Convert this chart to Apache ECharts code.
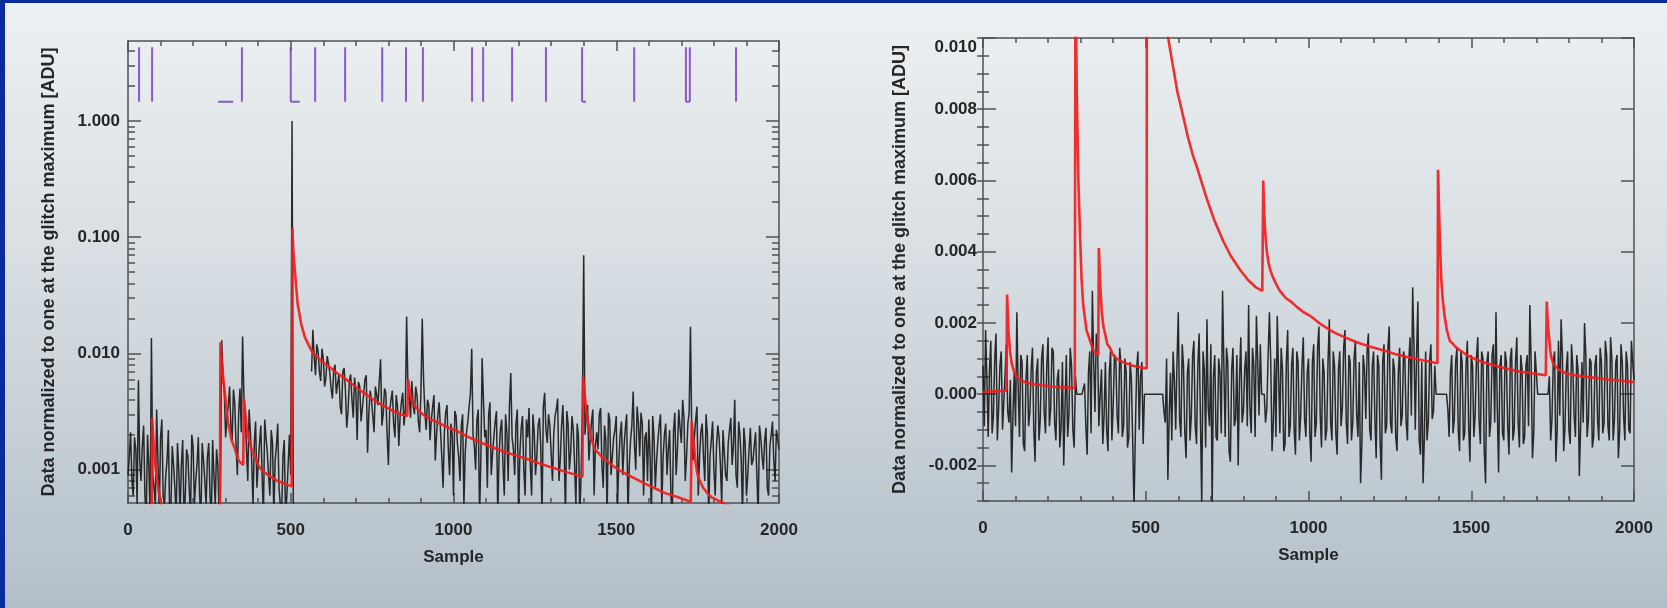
<!DOCTYPE html>
<html><head><meta charset="utf-8">
<script src="https://cdn.jsdelivr.net/npm/echarts@6/dist/echarts.min.js"></script>
<style>html,body{margin:0;padding:0;width:1667px;height:608px;overflow:hidden}#c{width:1667px;height:608px}</style>
</head><body><div id="c"></div><script>
// ---------- data ----------
// black traces: main values at samples 0,8,...,2000 and
// in-between values at samples 4,12,...,1996
const sampleStep = 8;

// left panel: data normalised to glitch maximum (log axis)
const leftBlack = [
.0009,.0021,.0006,.0015,.0059,.0008,.0024,.0004,.0011,.0136,
.0007,.0033,.0004,.0027,.0005,.0012,.0004,.0016,.0007,.0017,
.0004,.0018,.0006,.0013,.0004,.0016,.0008,.0019,.0004,.0012,
.0005,.0017,.0004,.0009,.0015,.0004,.0130,.0045,.0028,.0052,
.0018,.0037,.0009,.0050,.0140,.0030,.0008,.0021,.0005,.0026,
.0011,.0024,.0004,.0019,.0009,.0022,.0004,.0016,.0007,.0004,
.0018,.0006,.0020,1.0,.0004,null,null,null,null,null,
null,.0160,.0065,.0105,.0058,.0090,.0062,.0082,.0050,.0072,
.0045,.0066,.0030,.0075,.0023,.0058,.0040,.0062,.0018,.0052,
.0034,.0060,.0014,.0048,.0029,.0052,.0036,.0089,.0030,.0046,
.0011,.0040,.0025,.0044,.0016,.0038,.0024,.0208,.0045,.0058,
.0030,.0043,.0021,.0199,.0032,.0040,.0018,.0035,.0012,.0030,
.0022,.0007,.0031,.0015,.0025,.0006,.0029,.0013,.0024,.0005,
.0021,.0035,.0110,.0016,.0027,.0004,.0091,.0019,.0007,.0038,
.0014,.0026,.0004,.0022,.0011,.0030,.0008,.0068,.0015,.0025,
.0004,.0023,.0010,.0027,.0034,.0006,.0021,.0013,.0028,.0004,
.0046,.0017,.0024,.0008,.0029,.0041,.0012,.0036,.0004,.0025,
.0014,.0022,.0005,.0019,.0009,.0700,.0030,.0012,.0026,.0006,
.0021,.0030,.0011,.0024,.0004,.0027,.0013,.0022,.0005,.0020,
.0009,.0023,.0004,.0018,.0047,.0010,.0026,.0031,.0006,.0021,
.0027,.0004,.0019,.0012,.0024,.0005,.0020,.0009,.0022,.0004,
.0031,.0015,.0023,.0040,.0008,.0025,.0170,.0012,.0027,.0006,
.0021,.0013,.0030,.0004,.0018,.0010,.0016,.0019,.0005,.0014,
.0008,.0022,.0011,.0040,.0007,.0020,.0004,.0017,.0009,.0023,
.0012,.0021,.0004,.0019,.0010,.0023,.0006,.0020,.0012,.0022,
.0015];
const leftBlackMid = [
.0013,.0008,.0019,.0005,.0012,.0016,.0006,.0020,.0004,.0009,
.0005,.0012,.0019,.0006,.0009,.0022,.0005,.0011,.0004,.0010,
.0011,.0004,.0015,.0007,.0020,.0005,.0011,.0006,.0017,.0008,
.0013,.0006,.0018,.0005,.0011,.0007,.0062,.0019,.0035,.0024,
.0049,.0016,.0031,.0021,.0044,.0015,.0033,.0012,.0017,.0007,
.0017,.0009,.0027,.0014,.0006,.0017,.0012,.0025,.0005,.0013,
.0004,.0011,.0009,.0004,null,null,null,null,null,null,
.0070,.0095,.0120,.0070,.0110,.0052,.0095,.0068,.0041,.0080,
.0055,.0035,.0070,.0048,.0032,.0066,.0028,.0047,.0057,.0026,
.0045,.0065,.0031,.0040,.0021,.0044,.0058,.0024,.0050,.0020,
.0032,.0048,.0019,.0035,.0029,.0046,.0033,.0050,.0028,.0036,
.0052,.0026,.0047,.0060,.0022,.0036,.0027,.0044,.0020,.0038,
.0013,.0021,.0036,.0009,.0020,.0032,.0017,.0008,.0030,.0014,
.0026,.0045,.0020,.0010,.0033,.0012,.0040,.0022,.0030,.0009,
.0019,.0032,.0013,.0027,.0006,.0021,.0036,.0019,.0009,.0033,
.0014,.0029,.0006,.0019,.0011,.0030,.0009,.0024,.0016,.0035,
.0022,.0030,.0014,.0020,.0033,.0008,.0024,.0015,.0032,.0010,
.0029,.0011,.0025,.0004,.0031,.0020,.0036,.0018,.0033,.0016,
.0015,.0034,.0007,.0018,.0031,.0009,.0019,.0029,.0012,.0026,
.0016,.0030,.0011,.0024,.0016,.0035,.0013,.0025,.0019,.0008,
.0013,.0029,.0007,.0018,.0030,.0013,.0025,.0015,.0006,.0022,
.0009,.0033,.0017,.0028,.0013,.0031,.0020,.0019,.0035,.0013,
.0025,.0008,.0020,.0013,.0026,.0006,.0024,.0011,.0022,.0009,
.0017,.0028,.0016,.0009,.0026,.0012,.0023,.0006,.0015,.0011,
.0016,.0009,.0024,.0013,.0018,.0007,.0016,.0026,.0008,.0018];

// right panel: same detector, linear zoom
const rightBlack = [
.0008,.0018,-.0012,.0015,-.0006,.0017,-.0004,.0012,-.0002,.0014,
-.0008,-.0022,.0006,.0023,-.0012,.0009,-.0016,.0011,-.0005,.0013,
-.0019,.0010,-.0007,.0014,-.0011,.0016,-.0004,.0012,-.0013,.0007,
-.0009,-.0020,.0011,-.0006,.0008,-.0015,0,0,0,.0003,
-.0017,.0012,.0029,-.0005,.0014,0,-.0014,.0009,-.0016,.0012,
-.0003,.0010,-.0011,.0008,-.0009,.0006,-.0012,.0004,-.0032,.0007,
-.0010,.0009,0,0,0,0,0,0,0,0,
-.0008,-.0024,.0006,.0012,-.0010,.0023,-.0012,.0008,-.0018,.0010,
-.0006,.0015,-.0014,.0017,-.0031,.0007,.0021,-.0009,-.0031,.0011,
-.0013,.0006,.0029,-.0012,.0009,-.0019,.0013,-.0007,-.0020,.0016,
-.0005,.0012,.0025,-.0011,.0008,.0022,-.0006,0,0,-.0004,
.0023,-.0016,.0010,.0022,-.0011,.0007,-.0014,.0018,-.0009,.0013,
-.0017,.0009,-.0006,.0016,-.0012,.0010,-.0019,.0014,-.0008,.0019,
-.0015,.0006,-.0010,.0021,-.0013,.0008,-.0017,.0012,-.0004,.0018,
-.0014,.0009,-.0008,.0015,-.0012,-.0025,.0011,-.0007,.0017,-.0013,
.0012,-.0018,.0008,-.0024,.0014,-.0009,.0019,-.0011,.0007,-.0016,
.0013,-.0006,.0010,-.0013,.0016,.0030,-.0010,.0026,-.0017,-.0025,
.0012,-.0008,.0014,-.0005,0,0,0,0,0,-.0012,
.0011,-.0007,.0013,-.0016,.0009,-.0011,.0015,-.0019,.0008,-.0006,
.0016,-.0014,.0010,-.0025,.0012,-.0008,.0014,.0023,-.0022,.0011,
-.0013,.0009,-.0017,.0013,-.0010,.0016,-.0015,.0007,-.0012,.0011,
.0025,-.0018,.0012,0,0,0,0,0,-.0013,.0009,
-.0019,.0015,.0021,-.0016,.0007,-.0010,.0014,-.0006,.0011,-.0023,
.0009,.0020,-.0012,.0010,-.0015,.0008,-.0007,.0013,-.0011,.0015,
-.0009,.0016,-.0013,.0009,-.0018,.0014,-.0006,.0012,-.0010,.0015,
.0004];
const rightBlackMid = [
-.0009,.0004,.0007,-.0011,.0010,-.0013,.0008,-.0010,.0006,-.0005,
.0004,-.0006,-.0009,.0002,.0011,-.0014,.0004,-.0009,.0007,-.0010,
.0006,-.0013,.0010,-.0005,.0008,-.0009,.0013,-.0008,.0004,-.0015,
.0009,-.0004,-.0012,.0013,-.0010,.0005,0,0,0,-.0009,
.0006,-.0011,.0009,.0017,-.0009,.0007,-.0006,-.0010,.0006,-.0013,
.0011,-.0006,.0013,-.0012,.0010,-.0015,.0009,-.0014,-.0011,.0012,
.0005,-.0014,0,0,0,0,0,0,0,-.0005,
.0010,-.0006,-.0013,.0004,.0009,-.0007,.0014,-.0011,.0006,-.0013,
.0011,-.0009,.0008,-.0007,.0012,-.0015,-.0004,.0014,.0005,-.0012,
.0010,-.0011,.0008,.0013,-.0016,.0007,-.0009,.0011,.0004,-.0008,
.0007,-.0009,-.0004,.0013,-.0012,.0009,.0014,0,-.0008,.0011,
.0009,-.0008,-.0012,.0006,.0013,-.0016,.0009,-.0012,.0008,-.0010,
.0012,-.0013,.0008,-.0007,.0006,-.0011,.0009,-.0012,.0013,-.0006,
.0010,-.0013,.0009,-.0008,.0012,-.0011,.0007,-.0009,.0013,-.0008,
.0011,-.0013,.0010,-.0006,.0009,-.0014,.0007,.0012,-.0010,.0008,
-.0007,.0011,-.0013,.0009,-.0011,.0013,-.0008,.0010,-.0012,.0006,
-.0009,.0012,-.0008,.0009,-.0006,.0014,.0011,-.0013,.0009,-.0012,
-.0013,.0009,-.0007,.0008,0,0,0,0,-.0004,.0006,
-.0011,.0009,-.0010,.0012,-.0013,.0008,-.0009,.0011,-.0012,.0010,
-.0007,.0012,-.0016,.0009,-.0012,.0011,-.0008,-.0004,.0008,-.0011,
.0012,-.0009,.0010,-.0013,.0009,-.0008,.0011,-.0014,.0008,-.0009,
.0009,-.0011,.0006,0,0,0,0,.0005,-.0007,.0012,
-.0010,-.0006,.0011,-.0009,.0012,-.0014,.0008,-.0012,.0007,-.0009,
-.0008,.0011,-.0007,.0009,-.0012,.0011,-.0013,.0009,-.0008,.0011,
-.0013,.0010,-.0007,.0011,-.0010,.0009,-.0013,.0008,-.0011,.0009];

// glitch model (red), [sample, value], shared by both panels
const glitchModel = [
[0,.00006],[72,.0001],[74,.0028],[78,.0018],[83,.0012],[88,.00087],[96,.00062],[103,.00048],
[120,.00037],[144,.0003],[180,.00025],[220,.00021],[250,.00019],[282,.00018],[284,.0125],
[288,.0085],[293,.0060],[298,.0045],[303,.0032],[308,.0025],[318,.0018],[329,.0015],[340,.0012],[354,.0011],
[356,.0041],[360,.0031],[365,.0023],[370,.0019],[375,.0017],[382,.0014],[390,.0013],[400,.0011],[410,.0010],
[430,.0009],[460,.0008],[503,.00072],[505,.12],[508,.075],[513,.05],[521,.027],[532,.018],[543,.0139],
[555,.0118],[562,.0108],[569,.0100],[580,.0094],[597,.0085],[615,.0078],[630,.0072],[645,.0067],
[660,.0063],[687,.0055],[710,.0049],[738,.0043],[760,.0039],[789,.0035],[815,.0032],[838,.0030],
[858,.0029],[861,.0060],[863,.0053],[866,.0047],[869,.0043],[872,.0040],[877,.0037],[882,.0035],
[890,.0033],[900,.0031],[912,.0029],[930,.0027],[946,.0026],[964,.00245],[985,.0023],[1005,.0022],
[1040,.00195],[1075,.00175],[1110,.0016],[1150,.00145],[1190,.00133],[1229,.00123],[1265,.00113],
[1300,.00105],[1350,.00095],[1396,.00087],[1398,.0063],[1401,.0052],[1404,.0042],[1408,.0032],
[1413,.0026],[1418,.0022],[1425,.0018],[1434,.0015],[1445,.0014],[1455,.0013],[1470,.0012],
[1486,.0011],[1508,.0010],[1530,.00092],[1558,.00084],[1588,.00076],[1620,.00069],[1650,.00063],
[1690,.00058],[1729,.00053],[1732,.0026],[1734,.0022],[1737,.0018],[1740,.0015],[1743,.0012],
[1747,.001],[1752,.00086],[1760,.00077],[1767,.0007],[1780,.00063],[1793,.00058],[1815,.00054],
[1840,.0005],[1868,.00047],[1895,.00044],[1920,.00041],[1950,.00039],[1975,.00036],[2000,.00034]];

// glitch flags (purple) in the top of the left panel
const flagSamples = [34, 74, 350, 500, 575, 667, 781, 854, 906, 1057, 1091, 1180, 1284, 1395, 1555, 1714, 1726, 1868];
const flagShelves = [[277, 323], [500, 528], [1395, 1407], [1714, 1726]];
const flagLow = 1.46, flagHigh = 4.3;

// axes
const leftTickValues = [0.001, 0.01, 0.1, 1];
const rightTickValues = [-0.002, 0, 0.002, 0.004, 0.006, 0.008, 0.010];
const leftRange = [0.000518, 4.87];
const rightRange = [-0.003, 0.010];

// ---------- build ----------
function mergeTrace(main, mid) {
  const out = [];
  main.forEach((v, i) => {
    out.push([i * sampleStep, v]);
    if (i < mid.length) out.push([i * sampleStep + sampleStep / 2, mid[i]]);
  });
  return out;
}
const leftMinor = [];
[0.0001, 0.001, 0.01, 0.1, 1].forEach(d => { for (let k = 2; k <= 9; k++) { const v = +(d * k).toPrecision(3); if (v > leftRange[0] && v < leftRange[1]) leftMinor.push(v); } });
const rightMinor = [];
for (let k = -6; k <= 20; k++) rightMinor.push(+(k * 0.0005).toFixed(4));

const flagData = [];
flagSamples.forEach(s => { flagData.push([s, flagLow], [s, flagHigh], [s, null]); });
flagShelves.forEach(([a, b]) => { flagData.push([a, flagLow], [b, flagLow], [b, null]); });

const FONT = '"Liberation Sans", Arial, Helvetica, sans-serif';
const TXT = '#262626';
const AX = { color: '#505050', width: 1.5 };
const labelStyle = { fontFamily: FONT, fontSize: 17, fontWeight: 'bold', color: TXT };
const titleStyle = { fontFamily: FONT, fontSize: 18, fontWeight: 'bold', color: TXT };
const yTitle = 'Data normalized to one at the glitch maximum [ADU]';

function xAxes(grid) {
  const base = { type: 'value', gridIndex: grid, min: 0, max: 2000, interval: 500, splitLine: { show: false },
    axisLine: { show: true, onZero: false, lineStyle: AX },
    axisTick: { show: true, inside: true, length: 10, lineStyle: AX },
    minorTick: { show: true, splitNumber: 5, length: 5, lineStyle: AX }, minorSplitLine: { show: false } };
  return [
    Object.assign({}, base, { position: 'bottom',
      axisLabel: Object.assign({ margin: 19, formatter: v => String(v) }, labelStyle),
      name: 'Sample', nameLocation: 'middle', nameGap: 46, nameTextStyle: labelStyle }),
    Object.assign({}, base, { position: 'top', axisLabel: { show: false } })
  ];
}

const blackStyle = { color: '#161616', width: 1.5, opacity: 0.9 };
const redStyle = { color: '#f21d1d', width: 2.6, opacity: 0.92 };

const option = {
  animation: false,
  backgroundColor: new echarts.graphic.LinearGradient(0, 0, 0, 1, [
    { offset: 0, color: '#eef1f3' }, { offset: 0.5, color: '#d4dbe0' }, { offset: 1, color: '#b3bfc8' }]),
  graphic: [
    { type: 'rect', shape: { x: 0, y: 0, width: 1667, height: 3 }, style: { fill: '#0b2b9a' }, z: 100 },
    { type: 'rect', shape: { x: 0, y: 0, width: 5, height: 608 }, style: { fill: '#0b2b9a' }, z: 100 }
  ],
  grid: [
    { left: 128, top: 41, width: 651, height: 462 },
    { left: 983, top: 38, width: 651, height: 463 }
  ],
  xAxis: [].concat(xAxes(0), xAxes(1)),
  yAxis: [
    // left panel
    { type: 'log', logBase: 10, gridIndex: 0, position: 'left', min: leftRange[0], max: leftRange[1], splitLine: { show: false },
      axisLine: { show: true, lineStyle: AX },
      axisTick: { show: true, inside: true, length: 13, customValues: leftTickValues, lineStyle: AX },
      axisLabel: Object.assign({ margin: 8, customValues: leftTickValues,
        formatter: v => { const l = Math.log10(v); return Math.abs(l - Math.round(l)) < 1e-6 ? Number(v).toFixed(3) : ''; } }, labelStyle),
      name: yTitle, nameLocation: 'middle', nameGap: 70, nameTextStyle: titleStyle },
    { type: 'log', logBase: 10, gridIndex: 0, position: 'left', min: leftRange[0], max: leftRange[1], splitLine: { show: false },
      axisLine: { show: false }, axisLabel: { show: false },
      axisTick: { show: true, inside: true, length: 7, customValues: leftMinor, lineStyle: AX } },
    { type: 'log', logBase: 10, gridIndex: 0, position: 'right', min: leftRange[0], max: leftRange[1], splitLine: { show: false },
      axisLine: { show: true, lineStyle: AX }, axisLabel: { show: false },
      axisTick: { show: true, inside: true, length: 13, customValues: leftTickValues, lineStyle: AX } },
    { type: 'log', logBase: 10, gridIndex: 0, position: 'right', min: leftRange[0], max: leftRange[1], splitLine: { show: false },
      axisLine: { show: false }, axisLabel: { show: false },
      axisTick: { show: true, inside: true, length: 7, customValues: leftMinor, lineStyle: AX } },
    // right panel
    { type: 'value', gridIndex: 1, position: 'left', min: rightRange[0], max: rightRange[1], interval: 0.001, splitLine: { show: false },
      axisLine: { show: true, onZero: false, lineStyle: AX },
      axisTick: { show: true, inside: true, length: 13, customValues: rightTickValues, lineStyle: AX },
      axisLabel: Object.assign({ margin: 6, customValues: rightTickValues,
        formatter: v => { const k = Math.round(v * 1000); if (k % 2 !== 0 || k < -2) return ''; const s = (k / 1000).toFixed(3); return k === 10 ? '{top|' + s + '}' : s; },
        rich: { top: Object.assign({ padding: [18, 0, 0, 0] }, labelStyle) } }, labelStyle),
      name: yTitle, nameLocation: 'middle', nameGap: 74, nameTextStyle: titleStyle },
    { type: 'value', gridIndex: 1, position: 'left', min: rightRange[0], max: rightRange[1], interval: 0.001, splitLine: { show: false },
      axisLine: { show: false }, axisLabel: { show: false },
      axisTick: { show: true, inside: true, length: 6, customValues: rightMinor, lineStyle: AX } },
    { type: 'value', gridIndex: 1, position: 'right', min: rightRange[0], max: rightRange[1], interval: 0.001, splitLine: { show: false },
      axisLine: { show: true, onZero: false, lineStyle: AX }, axisLabel: { show: false },
      axisTick: { show: true, inside: true, length: 13, customValues: rightTickValues, lineStyle: AX } },
    { type: 'value', gridIndex: 1, position: 'right', min: rightRange[0], max: rightRange[1], interval: 0.001, splitLine: { show: false },
      axisLine: { show: false }, axisLabel: { show: false },
      axisTick: { show: true, inside: true, length: 6, customValues: rightMinor, lineStyle: AX } }
  ],
  series: [
    { name: 'data (log)', type: 'line', xAxisIndex: 0, yAxisIndex: 0, showSymbol: false, silent: true, z: 2,
      data: mergeTrace(leftBlack, leftBlackMid), lineStyle: blackStyle },
    { name: 'model (log)', type: 'line', xAxisIndex: 0, yAxisIndex: 0, showSymbol: false, silent: true, z: 3,
      data: glitchModel, lineStyle: redStyle },
    { name: 'flags', type: 'line', xAxisIndex: 0, yAxisIndex: 0, showSymbol: false, silent: true, z: 3,
      data: flagData, lineStyle: { color: '#7a3fc6', width: 2, opacity: 0.85 } },
    { name: 'data', type: 'line', xAxisIndex: 2, yAxisIndex: 4, showSymbol: false, silent: true, z: 2,
      data: mergeTrace(rightBlack, rightBlackMid), lineStyle: blackStyle },
    { name: 'model', type: 'line', xAxisIndex: 2, yAxisIndex: 4, showSymbol: false, silent: true, z: 3,
      data: glitchModel, lineStyle: redStyle }
  ]
};
echarts.init(document.getElementById('c'), null, { renderer: 'canvas' }).setOption(option);
</script></body></html>
